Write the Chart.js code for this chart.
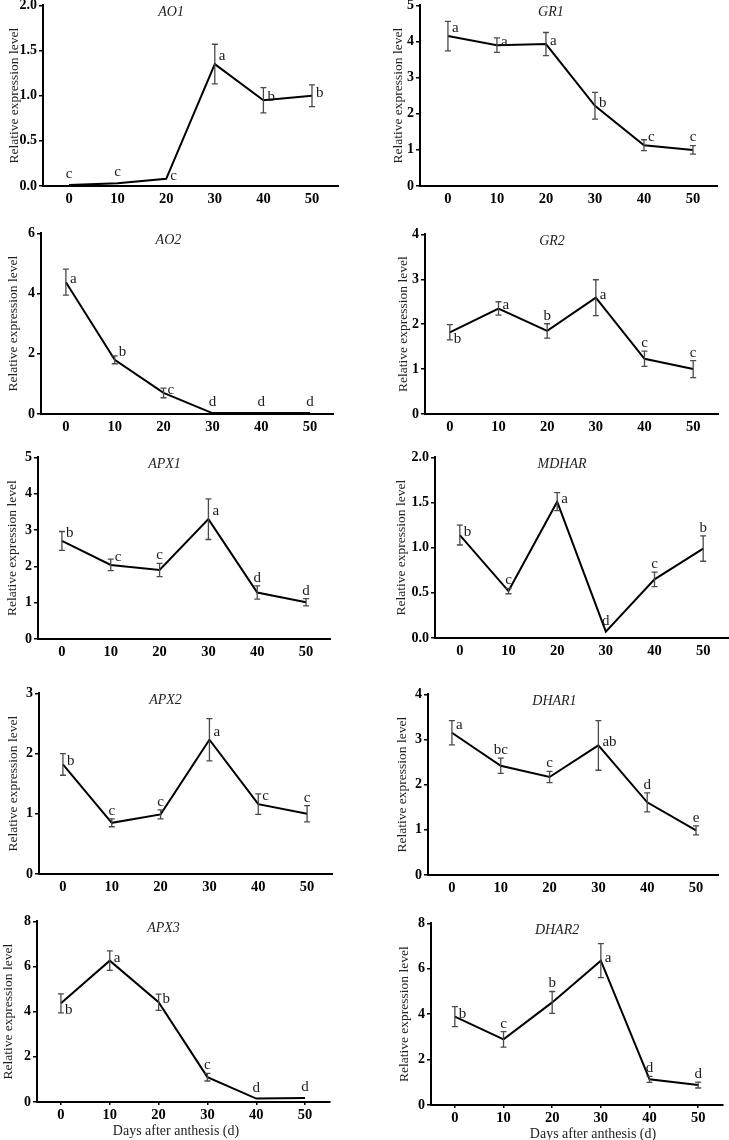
<!DOCTYPE html>
<html><head><meta charset="utf-8">
<script src="https://cdn.jsdelivr.net/npm/chart.js@4.4.0/dist/chart.umd.min.js"></script>
<style>
html,body{margin:0;padding:0;background:#fff;width:729px;height:1140px;overflow:hidden;position:relative}
canvas{position:absolute}
</style></head><body>
<script>
// ---------- DATA ----------
const days = [0, 10, 20, 30, 40, 50];
const dayLabels = ['0', '10', '20', '30', '40', '50'];

const AO1 = [0.01, 0.03, 0.08, 1.35, 0.95, 1.00];
const AO1_err = [0, 0, 0, 0.22, 0.14, 0.12];
const AO1_sig = ['c', 'c', 'c', 'a', 'b', 'b'];
const AO1_yTicks = ['0.0', '0.5', '1.0', '1.5', '2.0'];

const GR1 = [4.15, 3.90, 3.93, 2.22, 1.13, 1.00];
const GR1_err = [0.41, 0.20, 0.32, 0.37, 0.15, 0.12];
const GR1_sig = ['a', 'a', 'a', 'b', 'c', 'c'];
const GR1_yTicks = ['0', '1', '2', '3', '4', '5'];

const AO2 = [4.38, 1.80, 0.70, 0.03, 0.03, 0.03];
const AO2_err = [0.43, 0.13, 0.16, 0, 0, 0];
const AO2_sig = ['a', 'b', 'c', 'd', 'd', 'd'];
const AO2_yTicks = ['0', '2', '4', '6'];

const GR2 = [1.82, 2.35, 1.85, 2.59, 1.23, 1.00];
const GR2_err = [0.17, 0.15, 0.16, 0.40, 0.17, 0.19];
const GR2_sig = ['b', 'a', 'b', 'a', 'c', 'c'];
const GR2_yTicks = ['0', '1', '2', '3', '4'];

const APX1 = [2.70, 2.04, 1.90, 3.30, 1.28, 1.01];
const APX1_err = [0.26, 0.16, 0.18, 0.56, 0.18, 0.10];
const APX1_sig = ['b', 'c', 'c', 'a', 'd', 'd'];
const APX1_yTicks = ['0', '1', '2', '3', '4', '5'];

const MDHAR = [1.14, 0.52, 1.51, 0.07, 0.65, 0.99];
const MDHAR_err = [0.11, 0.03, 0.10, 0, 0.08, 0.14];
const MDHAR_sig = ['b', 'c', 'a', 'd', 'c', 'b'];
const MDHAR_yTicks = ['0.0', '0.5', '1.0', '1.5', '2.0'];

const APX2 = [1.82, 0.85, 0.99, 2.23, 1.16, 1.00];
const APX2_err = [0.18, 0.065, 0.075, 0.35, 0.17, 0.135];
const APX2_sig = ['b', 'c', 'c', 'a', 'c', 'c'];
const APX2_yTicks = ['0', '1', '2', '3'];

const DHAR1 = [3.15, 2.42, 2.17, 2.87, 1.61, 0.99];
const DHAR1_err = [0.27, 0.17, 0.125, 0.55, 0.21, 0.10];
const DHAR1_sig = ['a', 'bc', 'c', 'ab', 'd', 'e'];
const DHAR1_yTicks = ['0', '1', '2', '3', '4'];

const APX3 = [4.37, 6.26, 4.42, 1.10, 0.15, 0.18];
const APX3_err = [0.42, 0.43, 0.36, 0.17, 0, 0];
const APX3_sig = ['b', 'a', 'b', 'c', 'd', 'd'];
const APX3_yTicks = ['0', '2', '4', '6', '8'];

const DHAR2 = [3.89, 2.89, 4.52, 6.36, 1.13, 0.88];
const DHAR2_err = [0.44, 0.34, 0.48, 0.75, 0.13, 0.13];
const DHAR2_sig = ['b', 'c', 'b', 'a', 'd', 'd'];
const DHAR2_yTicks = ['0', '2', '4', '6', '8'];

const yTitle = 'Relative expression level';
const xTitle = 'Days after anthesis (d)';

// ---------- LAYOUT (positions / styles) ----------
const SERIF = '"Liberation Serif", "Times New Roman", Times, serif';
const panels = [
  {gene:'AO1',  v:AO1,  e:AO1_err,  s:AO1_sig,  yt:AO1_yTicks,  L:43,  R:338, T:5,   B:186,  ytx:14,  xmin:-5.35, xmax:55.35, pos:['u','u','r','ru','r','r']},
  {gene:'GR1',  v:GR1,  e:GR1_err,  s:GR1_sig,  yt:GR1_yTicks,  L:420, R:717, T:5,   B:186,  ytx:398, xmin:-5.7,  xmax:54.9,  pos:['ru','r','r','r','ru','u']},
  {gene:'AO2',  v:AO2,  e:AO2_err,  s:AO2_sig,  yt:AO2_yTicks,  L:41,  R:333, T:233, B:414,  ytx:13,  xmin:-5.1,  xmax:54.7,  pos:['r','ru','r','u','u','u']},
  {gene:'GR2',  v:GR2,  e:GR2_err,  s:GR2_sig,  yt:GR2_yTicks,  L:425, R:718, T:234, B:414,  ytx:403, xmin:-5.1,  xmax:55.1,  pos:['rd','r','u','r','u','u']},
  {gene:'APX1', v:APX1, e:APX1_err, s:APX1_sig, yt:APX1_yTicks, L:38,  R:330, T:457, B:639,  ytx:12,  xmin:-4.9,  xmax:54.9,  pos:['ru','ru','u','ru','u','u']},
  {gene:'MDHAR',v:MDHAR,e:MDHAR_err,s:MDHAR_sig,yt:MDHAR_yTicks,L:435, R:728, T:457, B:638,  ytx:401, xmin:-5.1,  xmax:55.1,  pos:['r','u','r','u','u','u']},
  {gene:'APX2', v:APX2, e:APX2_err, s:APX2_sig, yt:APX2_yTicks, L:39,  R:332, T:693, B:874,  ytx:13,  xmin:-4.9,  xmax:55.1,  pos:['r','u','u','ru','ru','u']},
  {gene:'DHAR1',v:DHAR1,e:DHAR1_err,s:DHAR1_sig,yt:DHAR1_yTicks,L:428, R:718, T:694, B:875,  ytx:402, xmin:-4.9,  xmax:54.5,  pos:['ru','u','u','r','u','u']},
  {gene:'APX3', v:APX3, e:APX3_err, s:APX3_sig, yt:APX3_yTicks, L:37,  R:330, T:921, B:1102, ytx:8,   xmin:-4.9,  xmax:55.1,  pos:['rd','r','r','u','u','u'], bottom:true, xtx:176},
  {gene:'DHAR2',v:DHAR2,e:DHAR2_err,s:DHAR2_sig,yt:DHAR2_yTicks,L:431, R:723, T:923, B:1105, ytx:404, xmin:-4.9,  xmax:55.1,  pos:['r','u','u','r','u','u'], bottom:true, xtx:593}
];

const annot = {
  id: 'annot',
  afterDatasetsDraw(chart, args, o) {
    const p = o.panel, ctx = chart.ctx, xs = chart.scales.x, ys = chart.scales.y, ca = chart.chartArea;
    ctx.save();
    // error bars
    ctx.strokeStyle = '#4a4a4a'; ctx.lineWidth = 1.3;
    p.v.forEach((val, i) => {
      const err = p.e[i]; if (!err) return;
      const x = xs.getPixelForValue(days[i]);
      const y1 = ys.getPixelForValue(val + err), y2 = ys.getPixelForValue(Math.max(val - err, 0));
      ctx.beginPath();
      ctx.moveTo(x, y1); ctx.lineTo(x, y2);
      ctx.moveTo(x - 3, y1); ctx.lineTo(x + 3, y1);
      ctx.moveTo(x - 3, y2); ctx.lineTo(x + 3, y2);
      ctx.stroke();
    });
    // significance letters
    ctx.font = '15px ' + SERIF; ctx.fillStyle = '#1a1a1a'; ctx.textBaseline = 'middle';
    p.s.forEach((t, i) => {
      const x = xs.getPixelForValue(days[i]), y = ys.getPixelForValue(p.v[i]);
      const pos = p.pos[i];
      if (pos === 'u') {
        ctx.textAlign = 'center';
        const yt = p.e[i] ? ys.getPixelForValue(p.v[i] + p.e[i]) - 8 : y - 11;
        ctx.fillText(t, x, yt);
      } else {
        ctx.textAlign = 'left';
        const dy = pos === 'ru' ? -8 : pos === 'rd' ? 7 : -3;
        ctx.fillText(t, x + 4, y + dy);
      }
    });
    // gene title
    ctx.font = 'italic 14px ' + SERIF; ctx.fillStyle = '#222'; ctx.textAlign = 'center';
    ctx.fillText(p.gene, xs.getPixelForValue(21), ca.top + 7);
    // x title
    if (p.bottom) {
      ctx.font = '14px ' + SERIF; ctx.fillStyle = '#222';
      ctx.fillText(xTitle, p.xtx - o.left, ca.bottom + 29);
    }
    ctx.restore();
  }
};

panels.forEach(p => {
  const cLeft = Math.round(p.ytx - 8);
  const yW = p.L - cLeft;
  const padTop = 10, padRight = 6, xH = 26, padBottom = p.bottom ? 16 : 4;
  const cTop = p.T - padTop;
  const w = (p.R - cLeft) + padRight;
  const h = padTop + (p.B - p.T) + xH + padBottom;
  const cv = document.createElement('canvas');
  cv.width = w; cv.height = h;
  cv.style.left = cLeft + 'px'; cv.style.top = cTop + 'px';
  cv.style.width = w + 'px'; cv.style.height = h + 'px';
  document.body.appendChild(cv);
  const yVals = p.yt.map(parseFloat);
  new Chart(cv, {
    type: 'line',
    data: {
      datasets: [{
        data: days.map((d, i) => ({x: d, y: p.v[i]})),
        borderColor: '#000', borderWidth: 2, pointRadius: 0, tension: 0, fill: false
      }]
    },
    options: {
      responsive: false, animation: false, devicePixelRatio: 1,
      layout: {padding: {left: 0, top: padTop, right: padRight, bottom: padBottom}, autoPadding: false},
      plugins: {legend: {display: false}, tooltip: {enabled: false}, annot: {panel: p, left: cLeft}},
      scales: {
        x: {
          type: 'linear', min: p.xmin, max: p.xmax,
          afterBuildTicks: s => { s.ticks = days.map(d => ({value: d})); },
          ticks: {
            callback: (val) => dayLabels[days.indexOf(val)],
            font: {family: SERIF, size: 14.5, weight: 'bold'}, color: '#000',
            padding: p.bottom ? 2 : 5, maxRotation: 0, autoSkip: false
          },
          grid: p.bottom ? {display: true, drawOnChartArea: false, drawTicks: true, tickLength: 3, color: '#000', lineWidth: 1.5}
                         : {display: false, drawTicks: false},
          border: {display: true, color: '#000', width: 2},
          afterFit: s => { s.height = xH; }
        },
        y: {
          type: 'linear', min: yVals[0], max: yVals[yVals.length - 1],
          afterBuildTicks: s => { s.ticks = yVals.map(v => ({value: v})); },
          ticks: {
            callback: (val) => p.yt[yVals.indexOf(val)],
            font: {family: SERIF, size: 14, weight: 'bold'}, color: '#000', padding: 2
          },
          grid: {display: true, drawOnChartArea: false, drawTicks: true, tickLength: 4, color: '#000', lineWidth: 1.5},
          border: {display: true, color: '#000', width: 2},
          title: {display: true, text: yTitle, font: {family: SERIF, size: 13.5, lineHeight: 1.2}, color: '#222', padding: 0},
          afterFit: s => { s.width = yW; }
        }
      }
    },
    plugins: [annot]
  });
});
</script>
</body></html>
